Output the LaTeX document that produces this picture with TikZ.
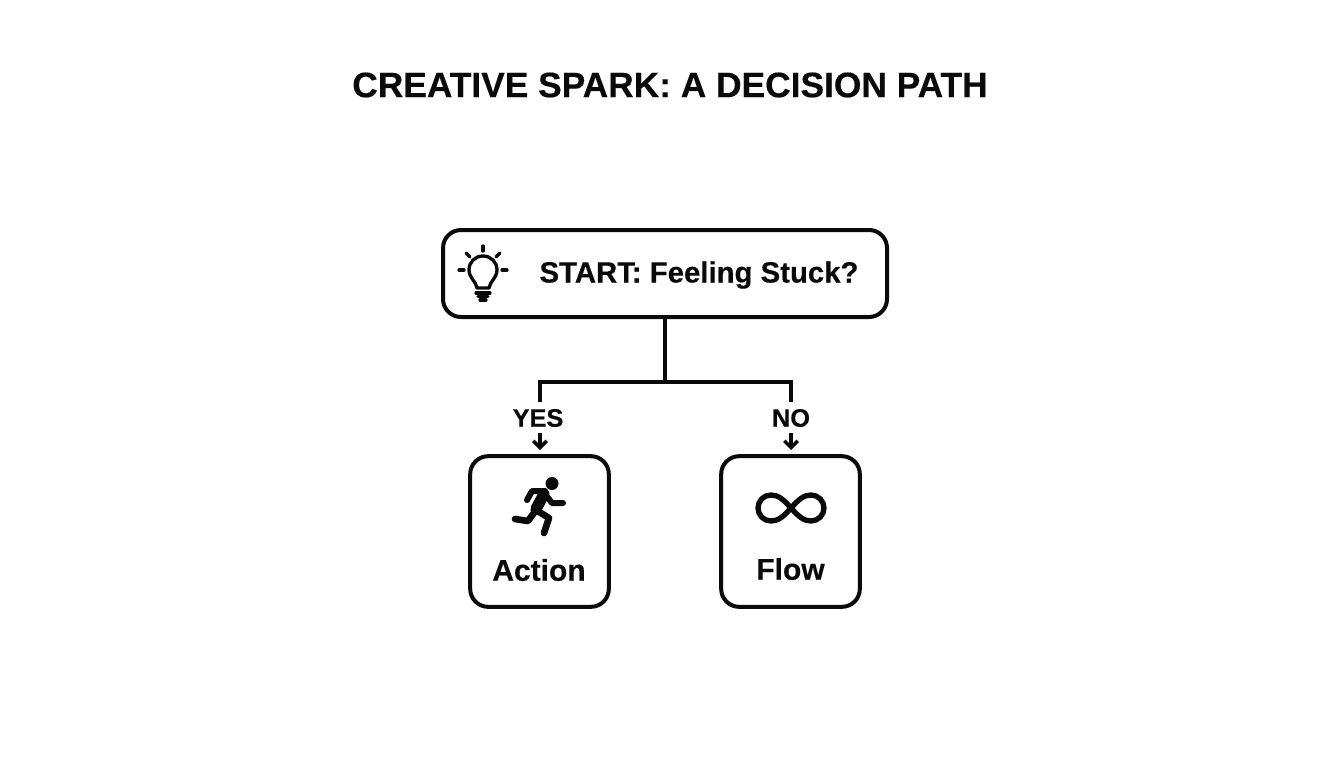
\documentclass[tikz,border=0pt]{standalone}
\usepackage{fontspec}
\setmainfont{Liberation Sans}[BoldFeatures={FakeBold=0.35}]
\usetikzlibrary{arrows.meta}
\tikzset{
  box/.style={draw=ink,line width=3pt,rounded corners=13.5pt,fill=white,inner sep=0pt},
  lbl/.style={font=\bfseries,text=ink,inner sep=0pt,anchor=center},
  conn/.style={draw=ink,line width=3pt},
  tip/.style={draw=ink,line width=2.6pt,-{Straight Barb[length=5pt,width=10pt,line width=2.6pt]}},
  ico/.style={draw=ink,line width=2.5pt,line cap=round,line join=round},
}
\definecolor{ink}{HTML}{0A0A0A}
\begin{document}
\begin{tikzpicture}[x=0.75pt,y=-0.75pt]
\useasboundingbox[fill=white] (0,0) rectangle (1344,768);
\node[lbl,font=\bfseries\fontsize{26.5}{30}\selectfont] (title) at (670,85) {CREATIVE SPARK: A DECISION PATH};
\node[box,minimum width=333pt,minimum height=65.25pt] (start) at (665,273.5) {};
\node[lbl,font=\bfseries\fontsize{22}{26}\selectfont] (startlbl) at (699,275) {START: Feeling Stuck?};
\node[box,minimum width=104pt,minimum height=113pt] (action) at (539.5,531.5) {};
\node[lbl,font=\bfseries\fontsize{22.5}{26}\selectfont] (actionlbl) at (539,570) {Action};
\node[box,minimum width=104pt,minimum height=113pt] (flow) at (790.5,531.5) {};
\node[lbl,font=\bfseries\fontsize{22.5}{26}\selectfont] (flowlbl) at (790.5,569) {Flow};
\node[lbl,font=\bfseries\fontsize{19}{22}\selectfont] (yes) at (538,418) {YES};
\node[lbl,font=\bfseries\fontsize{19}{22}\selectfont] (no) at (791,418) {NO};
\coordinate (jn) at (665,382);
\coordinate (yesend) at (540,402);
\coordinate (noend) at (791,402);
\coordinate (yestip) at (540,433);
\coordinate (notip) at (791,433);
\draw[conn] (start.south) -- (jn);
\draw[conn] (yesend) -- (540,382) -- (791,382) -- (noend);
\draw[tip] (yestip) -- (540,450);
\draw[tip] (notip) -- (791,450);
% bulb
\draw[ico] (477,288) .. controls (476,281) and (469,278) .. (469,270)
  .. controls (469,262) and (475,256) .. (483,256)
  .. controls (491,256) and (497,262) .. (497,270)
  .. controls (497,278) and (490,281) .. (489,288) -- cycle;
\foreach \a/\b/\c/\d in {483/246/483/251,459/270/464/270,502/270/507/270,466/253/470/257,500/253/496/257,476/293/490/293,478/296.5/488/296.5,480/300/486/300}
  \draw[ico] (\a,\b) -- (\c,\d);
% runner
\fill[ink] (552,483.5) circle[radius=6.5];
\draw[ico,line width=4.5pt] (527,500) -- (532,491) -- (545,491);
\draw[ico,line width=4.5pt] (545,494) -- (552,503) -- (563,503);
\draw[ico,line width=8.5pt] (544,494) -- (536,509);
\draw[ico,line width=5pt] (536,510) -- (528,521) -- (515,519);
\draw[ico,line width=5pt] (536,510) -- (549,518) -- (544,533);
% infinity
\draw[draw=ink,line width=4pt,line join=round] (791,508)
  .. controls (799,499) and (804,495) .. (811,495)
  .. controls (818.2,495) and (824,500.8) .. (824,508)
  .. controls (824,515.2) and (818.2,521) .. (811,521)
  .. controls (804,521) and (799,517) .. (791,508)
  .. controls (783,499) and (778,495) .. (771,495)
  .. controls (763.8,495) and (758,500.8) .. (758,508)
  .. controls (758,515.2) and (763.8,521) .. (771,521)
  .. controls (778,521) and (783,517) .. (791,508) -- cycle;
\end{tikzpicture}
\end{document}
